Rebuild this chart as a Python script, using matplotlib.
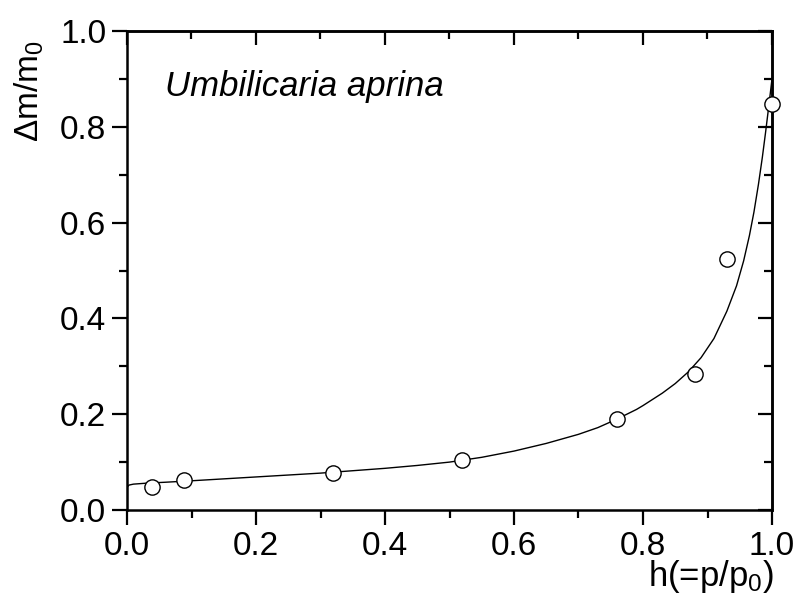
import matplotlib.pyplot as plt

plt.rcParams['font.family'] = ['Liberation Sans', 'DejaVu Sans']
plt.rcParams['mathtext.fontset'] = 'custom'
plt.rcParams['mathtext.rm'] = 'Liberation Sans'
plt.rcParams['mathtext.it'] = 'Liberation Sans:italic'

# measured points
h_data = [0.038, 0.089, 0.319, 0.519, 0.759, 0.880, 0.931, 1.000]
dm_data = [0.047, 0.063, 0.078, 0.104, 0.190, 0.283, 0.523, 0.848]

# fitted curve
h_fit = [0.0, 0.0005, 0.003, 0.01, 0.03, 0.06, 0.1, 0.15, 0.2, 0.25, 0.3,
         0.35, 0.4, 0.45, 0.5, 0.55, 0.6, 0.65, 0.7, 0.73, 0.76, 0.79, 0.80,
         0.83, 0.85, 0.87, 0.89, 0.91, 0.93, 0.945, 0.956, 0.965, 0.972,
         0.979, 0.985, 0.990, 0.995, 1.0]
dm_fit = [0.0, 0.048, 0.052, 0.054, 0.056, 0.058, 0.061, 0.065, 0.069, 0.073,
          0.077, 0.082, 0.087, 0.093, 0.100, 0.110, 0.123, 0.139, 0.158, 0.172,
          0.190, 0.210, 0.218, 0.244, 0.264, 0.288, 0.318, 0.358, 0.415,
          0.468, 0.520, 0.573, 0.622, 0.680, 0.736, 0.788, 0.843, 0.900]

xticks = [0.0, 0.2, 0.4, 0.6, 0.8, 1.0]
yticks = [0.0, 0.2, 0.4, 0.6, 0.8, 1.0]
minor = [0.1, 0.3, 0.5, 0.7, 0.9]

fig = plt.figure(figsize=(8.02, 6.01), dpi=100)
ax = fig.add_axes([127 / 802, 1 - 510 / 601, 645 / 802, 479 / 601])

ax.plot(h_fit, dm_fit, color='black', lw=1.0, zorder=2)
ax.plot(h_data, dm_data, 'o', ms=11, mfc='white', mec='black', mew=1.0,
        zorder=3, clip_on=False)

ax.set_xlim(0, 1)
ax.set_ylim(0, 1)
ax.set_xticks(xticks)
ax.set_yticks(yticks)
ax.set_xticks(minor, minor=True)
ax.set_yticks(minor, minor=True)
ax.set_xticklabels([f'{t:.1f}' for t in xticks])
ax.set_yticklabels([f'{t:.1f}' for t in yticks])
ax.tick_params(which='major', direction='out', length=11, width=1.6,
               labelsize=24, pad=4)
ax.tick_params(which='minor', direction='out', length=6, width=1.6)
for s in ax.spines.values():
    s.set_linewidth(1.8)

# mirrored ticks pointing inward on top and right
top = ax.secondary_xaxis('top')
top.set_xticks(xticks)
top.set_xticks(minor, minor=True)
top.tick_params(which='major', direction='in', length=10, width=1.6,
                labeltop=False)
top.tick_params(which='minor', direction='in', length=6, width=1.6)
top.spines['top'].set_linewidth(1.8)
right = ax.secondary_yaxis('right')
right.set_yticks(yticks)
right.set_yticks(minor, minor=True)
right.tick_params(which='major', direction='in', length=10, width=1.6,
                  labelright=False)
right.tick_params(which='minor', direction='in', length=6, width=1.6)
right.spines['right'].set_linewidth(1.8)

ax.set_ylabel('Δm/m$_0$', fontsize=24)
ax.yaxis.set_label_coords(-0.125, 0.875)
ax.set_xlabel('h(=p/p$_0$)', fontsize=25)
ax.xaxis.set_label_coords(0.905, -0.1)

ax.text(0.059, 0.864, 'Umbilicaria aprina', transform=ax.transAxes,
        fontsize=25, style='italic', ha='left', va='baseline')

fig.savefig('out.png', dpi=100)
